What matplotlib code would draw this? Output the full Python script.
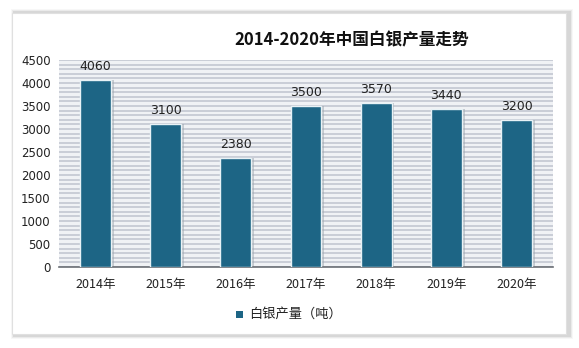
import matplotlib.pyplot as plt
from matplotlib.patches import Rectangle
import numpy as np

plt.rcParams['font.family'] = ['Noto Sans CJK SC', 'DejaVu Sans']

years = ["2014年", "2015年", "2016年", "2017年", "2018年", "2019年", "2020年"]
output_t = [4060, 3100, 2380, 3500, 3570, 3440, 3200]
yticks = [0, 500, 1000, 1500, 2000, 2500, 3000, 3500, 4000, 4500]

BAR_COLOR = "#1d6585"
W, H = 579, 348

fig = plt.figure(figsize=(W / 100, H / 100), dpi=100)
fig.patch.set_facecolor("white")

# white panel with soft grey shadow
for i, a in enumerate([0.03, 0.05, 0.08]):
    d = 3 - i
    fig.patches.append(Rectangle(((12 - d + 2) / W, 1 - (336 + d) / H),
                                 (556 + 2 * d) / W, (324 + 2 * d) / H,
                                 transform=fig.transFigure, facecolor="black",
                                 alpha=a, edgecolor="none", zorder=0))
fig.patches.append(Rectangle((12 / W, 1 - 334 / H), 554 / W, 321 / H,
                             transform=fig.transFigure, facecolor="white",
                             edgecolor="#e0e0e0", linewidth=0.8, zorder=1))

ax = fig.add_axes([59 / W, 1 - 267 / H, (553 - 59) / W, (267 - 60) / H])
ax.set_facecolor("#f0f2f5")
ax.set_zorder(2)

x = np.arange(len(years))
# striped background
for v in range(0, 4501, 100):
    ax.axhline(v, color="#c6cbd4", linewidth=1.3, zorder=1)

# bar shadows
ax.bar(x + 0.04, output_t, width=0.44, color="#9aa3ad", alpha=0.5, zorder=2)
bars = ax.bar(x, output_t, width=0.44, color=BAR_COLOR, edgecolor="#e8f2f6",
              linewidth=1.0, zorder=3)
for xi, v in zip(x, output_t):
    ax.text(xi, v + 150, str(v), ha="center", va="bottom", fontsize=9,
            color="#222222", family=["DejaVu Sans"])

ax.set_xlim(-0.52, len(years) - 0.48)
ax.set_ylim(0, 4500)
ax.set_yticks(yticks)
ax.set_yticklabels([str(t) for t in yticks], fontsize=8.5, family=["DejaVu Sans"])
ax.set_xticks(x)
ax.set_xticklabels(years, fontsize=9)
ax.tick_params(length=0, pad=8, colors="#222222")
ax.tick_params(axis="y", pad=6)
for s in ["top", "right", "left"]:
    ax.spines[s].set_visible(False)
ax.spines["bottom"].set_color("#6b6f75")
ax.spines["bottom"].set_linewidth(1.2)

fig.text(352 / W, 1 - 40 / H, "2014-2020年中国白银产量走势", ha="center",
         va="center", fontsize=12, fontweight="bold", color="#111111")

# legend
fig.patches.append(Rectangle((236 / W, 1 - 318 / H), 7 / W, 7 / H,
                             transform=fig.transFigure, facecolor=BAR_COLOR,
                             edgecolor="none", zorder=3))
fig.text(249 / W, 1 - 314 / H, "白银产量（吨）", ha="left", va="center",
         fontsize=9.5, color="#222222")

fig.savefig("out.png", dpi=100)
